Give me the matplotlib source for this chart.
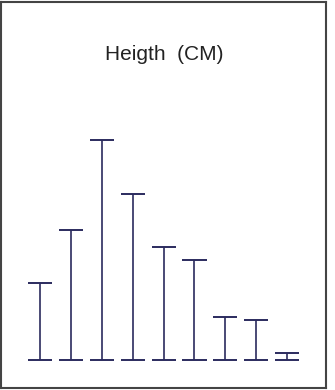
import matplotlib.pyplot as plt

positions = [1, 2, 3, 4, 5, 6, 7, 8, 9]
counts = [23, 39, 66, 50, 34, 30, 13, 12, 2]
title = "Heigth  (CM)"

W, H = 335, 390
fig = plt.figure(figsize=(W / 100, H / 100), dpi=100)
# axes box doubles as the grey frame
ax = fig.add_axes([1 / W, 2 / H, 325 / W, 386 / H])
for s in ax.spines.values():
    s.set_color('#444444')
    s.set_linewidth(1.5)
ax.set_xticks([])
ax.set_yticks([])

col = '#2b2b5e'
ax.vlines(positions, 0, counts, color=col, linewidth=1.2)
cap = 0.39
ax.hlines(counts, [p - cap for p in positions], [p + cap for p in positions], color=col, linewidth=1.4)
ax.hlines([0] * len(positions), [p - cap for p in positions], [p + cap for p in positions], color=col, linewidth=1.4)

ax.set_xlim(-0.262, 10.256)
ax.set_ylim(-8.4, 107.5)

fig.text(164 / W, 1 - 54 / H, title, ha='center', va='center',
         fontsize=15, family='Liberation Sans', color='#222222')

fig.savefig('out.png', dpi=100)
